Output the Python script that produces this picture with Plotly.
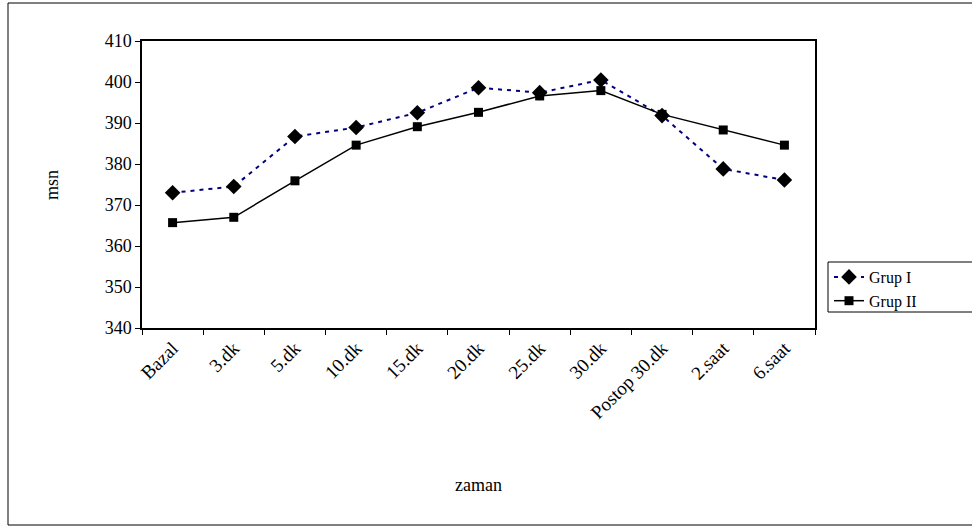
import plotly.graph_objects as go

categories = ["Bazal", "3.dk", "5.dk", "10.dk", "15.dk", "20.dk", "25.dk", "30.dk",
              "Postop 30.dk", "2.saat", "6.saat"]
grup1 = [373.0, 374.5, 386.7, 388.9, 392.5, 398.6, 397.4, 400.5, 391.8, 378.8, 376.1]
grup2 = [365.7, 367.0, 375.9, 384.6, 389.1, 392.6, 396.6, 397.9, 392.1, 388.3, 384.6]
y_ticks = [340, 350, 360, 370, 380, 390, 400, 410]

FONT = "Liberation Serif, Times New Roman, serif"

fig = go.Figure()
fig.add_trace(go.Scatter(
    x=categories, y=grup1, name="Grup I", mode="lines+markers",
    line=dict(color="#000080", width=2, dash="4px,5px"),
    marker=dict(symbol="diamond", size=12, color="black"),
))
fig.add_trace(go.Scatter(
    x=categories, y=grup2, name="Grup II", mode="lines+markers",
    line=dict(color="black", width=1.5),
    marker=dict(symbol="square", size=9, color="black"),
))

L, R, T, B = 142, 972 - 815, 41, 527 - 328
pw, ph = 815 - 142, 328 - 41

fig.update_layout(
    width=972, height=527,
    margin=dict(l=L, r=R, t=T, b=B, pad=0),
    paper_bgcolor="white", plot_bgcolor="white",
    font=dict(family=FONT, size=18, color="black"),
    showlegend=True,
    legend=dict(
        x=(829 - 142) / pw, y=(328 - 260) / ph, xanchor="left", yanchor="top",
        borderwidth=0, bgcolor="rgba(0,0,0,0)",
        font=dict(family=FONT, size=16, color="black"),
        tracegroupgap=0,
    ),
    xaxis=dict(
        type="category", tickangle=-45, showgrid=False,
        showline=True, linecolor="black", linewidth=1.5, mirror=True,
        ticks="outside", ticklen=5, tickcolor="black", tickson="boundaries",
        range=[-0.5, len(categories) - 0.5],
        tickfont=dict(family=FONT, size=19),
    ),
    yaxis=dict(
        range=[340, 410], tickvals=y_ticks, showgrid=False,
        showline=True, linecolor="black", linewidth=1.5, mirror=True,
        ticks="outside", ticklen=5, tickcolor="black",
        tickfont=dict(family=FONT, size=18),
    ),
    annotations=[
        dict(text="zaman", xref="paper", yref="paper", x=0.5, y=(328 - 485) / ph,
             xanchor="center", yanchor="middle", showarrow=False,
             font=dict(family=FONT, size=18)),
        dict(text="msn", xref="paper", yref="paper", x=(52 - 142) / pw, y=(328 - 185) / ph,
             xanchor="center", yanchor="middle", showarrow=False, textangle=-90,
             font=dict(family=FONT, size=18)),
    ],
    shapes=[
        dict(type="rect", xref="paper", yref="paper",
             x0=(8 - 142) / pw, x1=(990 - 142) / pw,
             y0=(328 - 525) / ph, y1=(328 - 3) / ph,
             line=dict(color="black", width=1), fillcolor="rgba(0,0,0,0)", layer="below"),
        dict(type="rect", xref="paper", yref="paper",
             x0=(828 - 142) / pw, x1=(990 - 142) / pw,
             y0=(328 - 312) / ph, y1=(328 - 262) / ph,
             line=dict(color="black", width=1), fillcolor="white", layer="below"),
    ],
)

fig.write_html("out.html")
